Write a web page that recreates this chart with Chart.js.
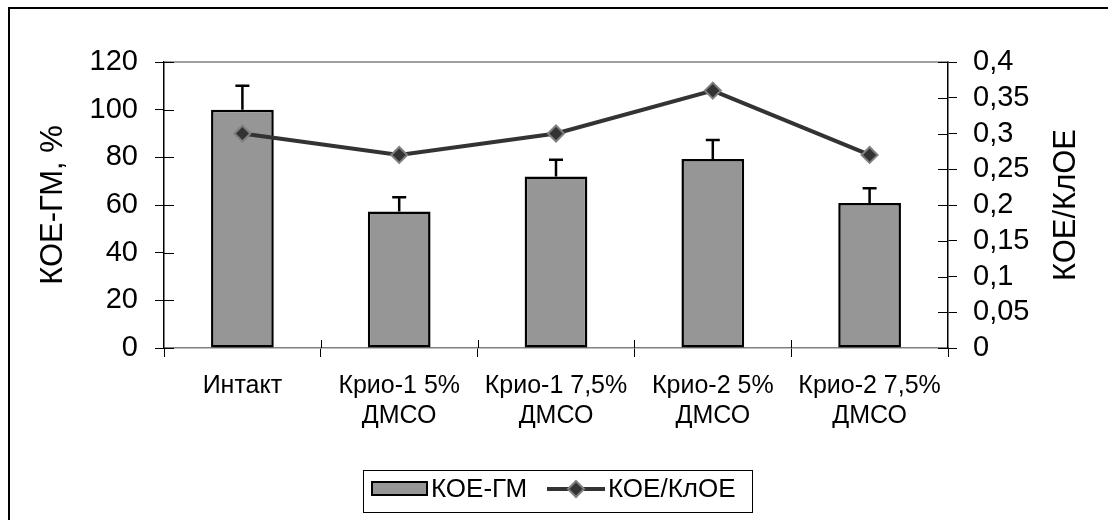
<!DOCTYPE html>
<html>
<head>
<meta charset="utf-8">
<script src="https://cdn.jsdelivr.net/npm/chart.js@4.4.0/dist/chart.umd.min.js"></script>
<style>
  html, body { margin: 0; padding: 0; background: #fff; }
  #wrap { width: 1108px; height: 520px; }
</style>
</head>
<body>
<div id="wrap"><canvas id="chart1" width="1108" height="520"></canvas></div>
<script>
// data
const categories = ['Интакт', ['Крио-1 5%', 'ДМСО'], ['Крио-1 7,5%', 'ДМСО'], ['Крио-2 5%', 'ДМСО'], ['Крио-2 7,5%', 'ДМСО']];
const koeGm = [100, 57.3, 72, 79.3, 60.8];        // bars, %
const koeGmErr = [10, 6, 7, 8, 6.2];              // upper error
const koeKloe = [0.30, 0.27, 0.30, 0.36, 0.27];   // line, right axis
const leftTicks = { min: 0, max: 120, step: 20 };
const rightTicks = { min: 0, max: 0.4, step: 0.05 };
const leftTitle = 'КОЕ-ГМ, %';
const rightTitle = 'КОЕ/КлОЕ';

const FONT = "'Liberation Sans', Arial, sans-serif";

// error bars, inner tick marks, right title, legend box, frame
const extras = {
  id: 'extras',
  afterDatasetsDraw(chart) {
    const ctx = chart.ctx;
    const x = chart.scales.x, y = chart.scales.y;
    ctx.save();
    ctx.strokeStyle = '#000';
    ctx.lineWidth = 2.5;
    koeGm.forEach((v, i) => {
      const px = x.getPixelForValue(i);
      const top = y.getPixelForValue(v + koeGmErr[i]);
      const base = y.getPixelForValue(v);
      ctx.beginPath();
      ctx.moveTo(px, base); ctx.lineTo(px, top);
      ctx.moveTo(px - 7, top); ctx.lineTo(px + 7, top);
      ctx.stroke();
    });
    ctx.restore();
  },
  afterDraw(chart) {
    const ctx = chart.ctx;
    const a = chart.chartArea;
    const y = chart.scales.y, y1 = chart.scales.y1, x = chart.scales.x;
    ctx.save();
    // top edge of plot
    ctx.strokeStyle = '#808080';
    ctx.lineWidth = 1.5;
    ctx.beginPath();
    ctx.moveTo(a.left, a.top); ctx.lineTo(a.right, a.top);
    ctx.stroke();
    // inner halves of ticks
    ctx.strokeStyle = '#000';
    ctx.lineWidth = 1;
    ctx.beginPath();
    y.ticks.forEach((t, i) => {
      const p = Math.round(y.getPixelForTick(i)) + 0.5;
      ctx.moveTo(a.left, p); ctx.lineTo(a.left + 10, p);
    });
    y1.ticks.forEach((t, i) => {
      const p = Math.round(y1.getPixelForTick(i)) + 0.5;
      ctx.moveTo(a.right, p); ctx.lineTo(a.right - 10, p);
    });
    for (let i = 1; i < categories.length; i++) {
      const p = Math.round((x.getPixelForValue(i - 1) + x.getPixelForValue(i)) / 2) + 0.5;
      ctx.moveTo(p, a.bottom); ctx.lineTo(p, a.bottom - 8);
    }
    ctx.stroke();

    // right axis title, reading bottom to top
    ctx.fillStyle = '#000';
    ctx.font = '31px ' + FONT;
    ctx.textAlign = 'center';
    ctx.textBaseline = 'middle';
    ctx.translate(1066, (a.top + a.bottom) / 2);
    ctx.rotate(-Math.PI / 2);
    ctx.fillText(rightTitle, 0, 0);
    ctx.setTransform(1, 0, 0, 1, 0, 0);

    // legend
    const ds = chart.data.datasets;
    const barDs = ds.find(d => d.type === 'bar');
    const lineDs = ds.find(d => d.type === 'line');
    ctx.strokeStyle = '#000';
    ctx.lineWidth = 1;
    ctx.strokeRect(363.5, 470.5, 389, 42);
    ctx.fillStyle = barDs.backgroundColor;
    ctx.fillRect(372, 482, 55, 13);
    ctx.lineWidth = 2;
    ctx.strokeRect(372, 482, 55, 13);
    ctx.strokeStyle = lineDs.borderColor;
    ctx.lineWidth = 4;
    ctx.beginPath();
    ctx.moveTo(547, 489); ctx.lineTo(605, 489);
    ctx.stroke();
    ctx.beginPath();
    ctx.moveTo(576, 481); ctx.lineTo(584, 489); ctx.lineTo(576, 497); ctx.lineTo(568, 489); ctx.closePath();
    ctx.fillStyle = lineDs.pointBackgroundColor;
    ctx.fill();
    ctx.strokeStyle = lineDs.pointBorderColor;
    ctx.lineWidth = 2;
    ctx.stroke();
    ctx.fillStyle = '#000';
    ctx.font = '26px ' + FONT;
    ctx.textAlign = 'left';
    ctx.textBaseline = 'middle';
    ctx.fillText(barDs.label, 431, 490);
    ctx.fillText(lineDs.label, 608, 490);

    // outer frame (left and top only visible)
    ctx.strokeStyle = '#000';
    ctx.lineWidth = 2;
    ctx.beginPath();
    ctx.moveTo(9, 520); ctx.lineTo(9, 8); ctx.lineTo(1108, 8);
    ctx.stroke();
    ctx.restore();
  }
};

const data1 = {
  labels: categories,
  datasets: [
    {
      type: 'line',
      label: 'КОЕ/КлОЕ',
      data: koeKloe,
      yAxisID: 'y1',
      order: 0,
      borderColor: '#333333',
      borderWidth: 4,
      pointStyle: 'rectRot',
      pointRadius: 8,
      pointBackgroundColor: '#333333',
      pointBorderColor: '#808080',
      pointBorderWidth: 2,
      tension: 0
    },
    {
      type: 'bar',
      label: 'КОЕ-ГМ',
      data: koeGm,
      yAxisID: 'y',
      order: 1,
      backgroundColor: '#969696',
      borderColor: '#000000',
      borderWidth: 2.5,
      borderSkipped: false,
      barPercentage: 0.4,
      categoryPercentage: 1
    }
  ]
};

const config1 = {
  type: 'bar',
  data: data1,
  plugins: [extras],
  options: {
    responsive: false,
    animation: false,
    layout: { padding: { left: 20, right: 0, top: 62, bottom: 0 } },
    plugins: { legend: { display: false }, tooltip: { enabled: false } },
    scales: {
      x: {
        offset: true,
        grid: { offset: true, drawOnChartArea: false, tickLength: 9, color: '#000', tickWidth: 1 },
        border: { color: '#808080', width: 1.5 },
        ticks: { color: '#000', font: { family: FONT, size: 25, lineHeight: 1.2 }, padding: 14, maxRotation: 0, autoSkip: false },
        afterFit(s) { s.height = 172; }
      },
      y: {
        position: 'left',
        min: leftTicks.min, max: leftTicks.max,
        ticks: { stepSize: leftTicks.step, color: '#000', font: { family: FONT, size: 29 }, padding: 17, autoSkip: false },
        grid: { drawOnChartArea: false, tickLength: 9, color: '#000' },
        border: { color: '#000', width: 1.5 },
        title: { display: true, text: leftTitle, color: '#000', font: { family: FONT, size: 31 }, padding: { top: 15, bottom: 0 } },
        afterFit(s) { s.width = 144; }
      },
      y1: {
        position: 'right',
        min: rightTicks.min, max: rightTicks.max,
        ticks: {
          stepSize: rightTicks.step, color: '#000', font: { family: FONT, size: 29 }, padding: 16, autoSkip: false,
          callback: v => String(Math.round(v * 100) / 100).replace('.', ',')
        },
        grid: { drawOnChartArea: false, tickLength: 9, color: '#000' },
        border: { color: '#000', width: 1.5 },
        afterFit(s) { s.width = 160; }
      }
    }
  }
};

var ctx1 = document.getElementById('chart1').getContext('2d');
var myChart1 = new Chart(ctx1, config1);
</script>
</body>
</html>
